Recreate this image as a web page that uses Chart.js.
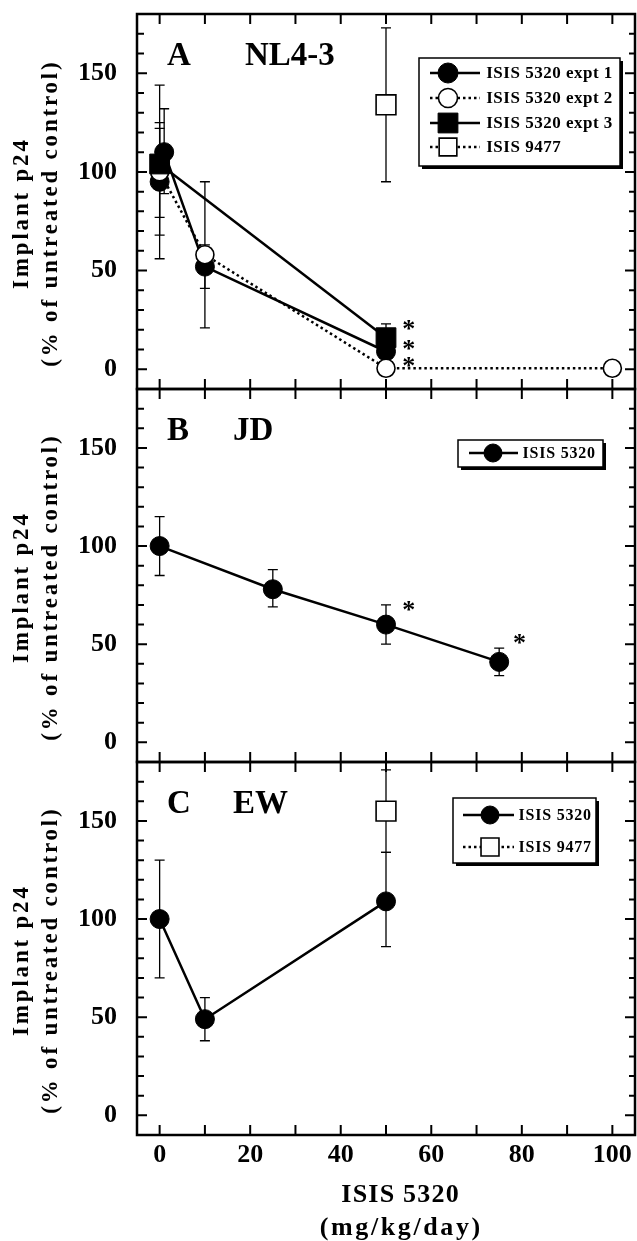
<!DOCTYPE html>
<html>
<head>
<meta charset="utf-8">
<title>Implant p24 vs ISIS 5320</title>
<script src="https://cdn.jsdelivr.net/npm/chart.js@4.4.1/dist/chart.umd.min.js"></script>
<style>
  html, body { margin: 0; padding: 0; background: #fff; }
  #fig { position: relative; width: 637px; height: 1241px; overflow: hidden; }
  #fig canvas { position: absolute; left: 0; }
</style>
</head>
<body>
<div id="fig">
  <canvas id="panel-a" width="637" height="400" style="top:0px"></canvas>
  <canvas id="panel-b" width="637" height="400" style="top:380px"></canvas>
  <canvas id="panel-c" width="637" height="489" style="top:752px"></canvas>
</div>
<script>
// axis ticks
const xTicks = [0, 10, 20, 30, 40, 50, 60, 70, 80, 90, 100];
const xTickLabels = [0, 20, 40, 60, 80, 100];
const yTicks = [0, 10, 20, 30, 40, 50, 60, 70, 80, 90, 100, 110, 120, 130, 140, 150, 160, 170];
const yTickLabels = [0, 50, 100, 150];

// A  NL4-3
const doseA1 = [0, 1, 10, 50];
const meanA1 = [95, 110, 52, 9];
const lowA1 = [68, 89, 41, 7];
const highA1 = [122, 132, 63, 11];

const doseA2 = [0, 10, 50, 100];
const meanA2 = [100, 58, 0.5, 0.5];
const lowA2 = [56, 21, 0.5, 0.5];
const highA2 = [144, 95, 0.5, 0.5];

const doseA3 = [0, 50];
const meanA3 = [104, 16];
const lowA3 = [77, 11];
const highA3 = [125, 23];

const doseA4 = [50];
const meanA4 = [134];
const lowA4 = [95];
const highA4 = [173];

const starsAX = [55, 55, 55];
const starsAY = [23, 13, 4];

// B  JD
const doseB = [0, 25, 50, 75];
const meanB = [100, 78, 60, 41];
const lowB = [85, 69, 50, 34];
const highB = [115, 88, 70, 48];

const starsBX = [55, 79.5];
const starsBY = [70, 53];

// C  EW
const doseC1 = [0, 10, 50];
const meanC1 = [100, 49, 109];
const lowC1 = [70, 38, 86];
const highC1 = [130, 60, 134];

const doseC2 = [50];
const meanC2 = [155];
const lowC2 = [134];
const highC2 = [176];

const SERIF = '"Liberation Serif", "Times New Roman", serif';
Chart.defaults.font.family = SERIF;
Chart.defaults.font.weight = 'bold';
Chart.defaults.color = '#000';

const PLOT_LEFT = 137;
const PLOT_RIGHT = 635;

const filledCircle = { pointStyle: 'circle', pointRadius: 9.5, pointBackgroundColor: '#000', pointBorderWidth: 1, borderWidth: 2.5 };
const openCircle = { pointStyle: 'circle', pointRadius: 9, pointBackgroundColor: '#fff', pointBorderWidth: 1.6, borderWidth: 2.5, borderDash: [2.5, 3] };
const filledSquare = { pointStyle: 'rect', pointRadius: 14, pointBackgroundColor: '#000', pointBorderWidth: 1, borderWidth: 2.5 };
const openSquare = { pointStyle: 'rect', pointRadius: 14, pointBackgroundColor: '#fff', pointBorderWidth: 1.6, borderWidth: 2.5, borderDash: [2.5, 3] };

function series(label, doses, means, lows, highs, style, order) {
    return Object.assign({
        label,
        data: doses.map((d, i) => ({ x: d, y: means[i] })),
        errLow: lows,
        errHigh: highs,
        showLine: true,
        borderColor: '#000',
        pointBorderColor: '#000',
        pointHoverRadius: 0,
        order: order || 0,
    }, style);
}

function mark(ctx, style, r, fill, lw, x, y) {
    ctx.beginPath();
    if (style === 'rect') {
        const s = r * Math.SQRT1_2;
        ctx.rect(x - s, y - s, 2 * s, 2 * s);
    } else {
        ctx.arc(x, y, r, 0, Math.PI * 2);
    }
    ctx.fillStyle = fill;
    ctx.fill();
    ctx.lineWidth = lw;
    ctx.strokeStyle = '#000';
    ctx.stroke();
}

function spacedText(ctx, text, x, y, spacing) {
    ctx.letterSpacing = spacing + 'px';
    ctx.fillText(text, x + spacing / 2, y);
    ctx.letterSpacing = '0px';
}

function makeDecor(spec) {
    return {
        id: 'decor',
        beforeDatasetsDraw(chart) {
            const ctx = chart.ctx;
            const ys = chart.scales.y;
            ctx.save();
            ctx.strokeStyle = '#000';
            ctx.lineWidth = 1.3;
            chart.data.datasets.forEach((ds, di) => {
                const meta = chart.getDatasetMeta(di);
                meta.data.forEach((pt, i) => {
                    const lo = ds.errLow[i], hi = ds.errHigh[i];
                    if (lo === hi) return;
                    const y1 = ys.getPixelForValue(lo), y2 = ys.getPixelForValue(hi);
                    ctx.beginPath();
                    ctx.moveTo(pt.x, y1); ctx.lineTo(pt.x, y2);
                    ctx.moveTo(pt.x - 5, y1); ctx.lineTo(pt.x + 5, y1);
                    ctx.moveTo(pt.x - 5, y2); ctx.lineTo(pt.x + 5, y2);
                    ctx.stroke();
                });
            });
            ctx.restore();
        },
        afterDraw(chart) {
            const ctx = chart.ctx;
            const a = chart.chartArea;
            const xs = chart.scales.x, ys = chart.scales.y;
            ctx.save();
            ctx.strokeStyle = '#000';
            ctx.fillStyle = '#000';

            // frame + inward ticks
            ctx.lineWidth = 2.5;
            ctx.strokeRect(a.left, a.top, a.right - a.left, a.bottom - a.top);
            ctx.lineWidth = 2;
            ctx.beginPath();
            xTicks.forEach((v) => {
                const px = xs.getPixelForValue(v);
                ctx.moveTo(px, a.top); ctx.lineTo(px, a.top + 10);
                ctx.moveTo(px, a.bottom); ctx.lineTo(px, a.bottom - 10);
            });
            yTicks.forEach((v) => {
                const py = ys.getPixelForValue(v);
                const big = v % 50 === 0;
                ctx.moveTo(a.left, py); ctx.lineTo(a.left + (big ? 10 : 7), py);
                ctx.moveTo(a.right, py); ctx.lineTo(a.right - (big ? 10 : 6), py);
            });
            ctx.stroke();

            // panel letter and isolate name
            ctx.font = 'bold 33px ' + SERIF;
            ctx.textAlign = 'left';
            ctx.textBaseline = 'alphabetic';
            ctx.fillText(spec.letter, a.left + 30, a.top + 51);
            ctx.fillText(spec.name, a.left + spec.nameDx, a.top + 51);

            // y title
            const cy = (a.top + a.bottom) / 2 + 13;
            ctx.save();
            ctx.translate(22, cy);
            ctx.rotate(-Math.PI / 2);
            ctx.font = 'bold 23px ' + SERIF;
            ctx.textAlign = 'center';
            ctx.textBaseline = 'middle';
            spacedText(ctx, 'Implant p24', 0, 0, 2.8);
            ctx.translate(0, 29);
            spacedText(ctx, '(% of untreated control)', 0, 0, 2.8);
            ctx.restore();

            // significance stars
            ctx.font = 'bold 26px ' + SERIF;
            ctx.textAlign = 'center';
            ctx.textBaseline = 'alphabetic';
            spec.starsX.forEach((sx, i) => {
                ctx.fillText('*', xs.getPixelForValue(sx), ys.getPixelForValue(spec.starsY[i]) + 13);
            });

            // legend box with shadow
            const lg = spec.legend;
            ctx.fillStyle = '#000';
            ctx.fillRect(lg.x + 3, lg.y + 3, lg.w, lg.h);
            ctx.fillStyle = '#fff';
            ctx.fillRect(lg.x, lg.y, lg.w, lg.h);
            ctx.lineWidth = 1.5;
            ctx.strokeRect(lg.x, lg.y, lg.w, lg.h);
            lg.rows.forEach((row) => {
                const ds = chart.data.datasets[row.ds];
                ctx.save();
                ctx.lineWidth = ds.borderWidth;
                ctx.setLineDash(ds.borderDash || []);
                ctx.beginPath();
                ctx.moveTo(lg.line[0], row.y); ctx.lineTo(lg.line[1], row.y);
                ctx.stroke();
                ctx.restore();
                mark(ctx, ds.pointStyle, row.r, ds.pointBackgroundColor, ds.pointBorderWidth, lg.markX, row.y);
                ctx.fillStyle = '#000';
                ctx.font = 'bold ' + lg.fontSize + 'px ' + SERIF;
                ctx.textAlign = 'left';
                ctx.textBaseline = 'middle';
                spacedText(ctx, ds.label, lg.textX, row.y + 1, lg.spacing);
            });

            // x title (bottom panel only)
            if (spec.xTitle) {
                ctx.fillStyle = '#000';
                ctx.font = 'bold 26px ' + SERIF;
                ctx.textAlign = 'center';
                ctx.textBaseline = 'middle';
                spacedText(ctx, spec.xTitle[0], 400, 1195 - spec.canvasTop, 1.2);
                spacedText(ctx, spec.xTitle[1], 400, 1228 - spec.canvasTop, 2.6);
            }
            ctx.restore();
        },
    };
}

function makePanel(id, spec) {
    const canvas = document.getElementById(id);
    return new Chart(canvas, {
        type: 'scatter',
        data: { datasets: spec.datasets },
        options: {
            responsive: false,
            animation: false,
            events: [],
            layout: { autoPadding: false, padding: { left: 0, right: canvas.width - PLOT_RIGHT, top: spec.top, bottom: 0 } },
            plugins: { legend: { display: false }, tooltip: { enabled: false } },
            scales: {
                x: {
                    type: 'linear',
                    min: -5,
                    max: 105,
                    grid: { display: false },
                    border: { display: false },
                    ticks: { display: !!spec.xTitle, padding: -3, font: { size: 26, weight: 'bold' }, color: '#000' },
                    afterBuildTicks: (s) => { s.ticks = xTickLabels.map((v) => ({ value: v })); },
                    afterFit: (s) => {
                        s.height = canvas.height - spec.bottom;
                        s.paddingLeft = 0;
                        s.paddingRight = 0;
                    },
                },
                y: {
                    min: -10,
                    max: 180,
                    grid: { display: false },
                    border: { display: false },
                    ticks: { padding: 12, font: { size: 26, weight: 'bold' }, color: '#000' },
                    afterBuildTicks: (s) => { s.ticks = yTickLabels.map((v) => ({ value: v })); },
                    afterFit: (s) => {
                        s.width = PLOT_LEFT;
                        s.paddingTop = 0;
                        s.paddingBottom = 0;
                    },
                },
            },
        },
        plugins: [makeDecor(spec)],
    });
}

makePanel('panel-a', {
    canvasTop: 0, top: 14, bottom: 389,
    letter: 'A', name: 'NL4-3', nameDx: 108,
    starsX: starsAX, starsY: starsAY,
    datasets: [
        series('ISIS 5320 expt 1', doseA1, meanA1, lowA1, highA1, filledCircle, 2),
        series('ISIS 5320 expt 2', doseA2, meanA2, lowA2, highA2, openCircle, 1),
        series('ISIS 5320 expt 3', doseA3, meanA3, lowA3, highA3, filledSquare, 0),
        series('ISIS 9477', doseA4, meanA4, lowA4, highA4, openSquare, 0),
    ],
    legend: {
        x: 419, y: 58, w: 201, h: 108, line: [430, 480], markX: 448, textX: 486, fontSize: 17, spacing: 0.5,
        rows: [{ ds: 0, y: 73, r: 10 }, { ds: 1, y: 98, r: 9.5 }, { ds: 2, y: 123, r: 14 }, { ds: 3, y: 147, r: 12.5 }],
    },
});

makePanel('panel-b', {
    canvasTop: 380, top: 9, bottom: 382,
    letter: 'B', name: 'JD', nameDx: 96,
    starsX: starsBX, starsY: starsBY,
    datasets: [
        series('ISIS 5320', doseB, meanB, lowB, highB, filledCircle),
    ],
    legend: {
        x: 458, y: 60, w: 145, h: 27, line: [469, 518], markX: 493, textX: 522, fontSize: 16, spacing: 0.8,
        rows: [{ ds: 0, y: 73, r: 9 }],
    },
});

makePanel('panel-c', {
    canvasTop: 752, top: 10, bottom: 383,
    letter: 'C', name: 'EW', nameDx: 96,
    starsX: [], starsY: [],
    xTitle: ['ISIS 5320', '(mg/kg/day)'],
    datasets: [
        series('ISIS 5320', doseC1, meanC1, lowC1, highC1, filledCircle, 0),
        series('ISIS 9477', doseC2, meanC2, lowC2, highC2, openSquare, 1),
    ],
    legend: {
        x: 453, y: 46, w: 143, h: 65, line: [463, 514], markX: 490, textX: 518, fontSize: 16, spacing: 0.8,
        rows: [{ ds: 0, y: 63, r: 9 }, { ds: 1, y: 95, r: 12.7 }],
    },
});
</script>
</body>
</html>
